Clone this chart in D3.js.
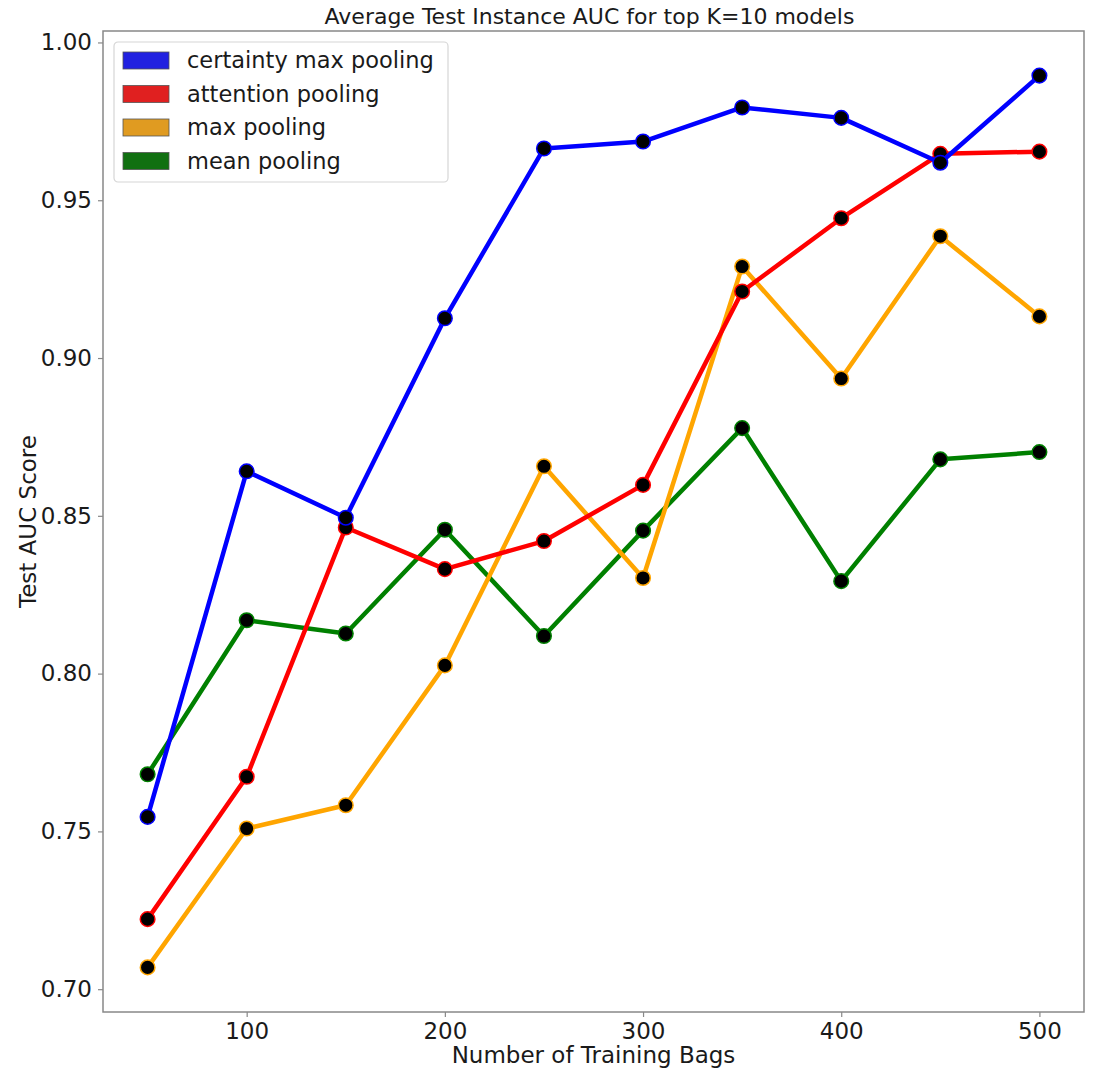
<!DOCTYPE html>
<html>
<head>
<meta charset="utf-8">
<script src="https://cdn.jsdelivr.net/npm/d3@7"></script>
<style>
  body { margin: 0; background: #fff; }
  text { font-family: "DejaVu Sans", sans-serif; fill: #1a1a1a; }
</style>
</head>
<body>
<div id="chart"></div>
<script>
var bags = [50, 100, 150, 200, 250, 300, 350, 400, 450, 500]
var certainty_max = [0.7546, 0.8641, 0.8494, 0.9126, 0.9664, 0.9686, 0.9794, 0.9761, 0.9619, 0.9895]
var attention = [0.7222, 0.7673, 0.8463, 0.8331, 0.8420, 0.8598, 0.9211, 0.9443, 0.9647, 0.9654]
var max_pool = [0.7069, 0.7509, 0.7583, 0.8026, 0.8657, 0.8303, 0.9290, 0.8935, 0.9386, 0.9132]
var mean_pool = [0.7681, 0.8169, 0.8127, 0.8456, 0.8119, 0.8453, 0.8778, 0.8293, 0.8679, 0.8702]
var series_names = ["certainty max pooling", "attention pooling", "max pooling", "mean pooling"]
var x_ticks = [100, 200, 300, 400, 500]
var y_ticks = [0.70, 0.75, 0.80, 0.85, 0.90, 0.95, 1.00]

var line_colors = ["#0000ff", "#ff0000", "#ffa500", "#008000"]
var patch_colors = ["#2121e0", "#e02020", "#e09b21", "#117011"]
var all_values = [certainty_max, attention, max_pool, mean_pool]

var width = 1099, height = 1071
var padding = { "left": 103, "right": 15, "top": 31, "bottom": 59 }
var plot_w = width - padding.left - padding.right
var plot_h = height - padding.top - padding.bottom

// matplotlib style 5% margins
var x_min = d3.min(bags), x_max = d3.max(bags)
var x_pad = (x_max - x_min) * 0.05
var flat = [].concat.apply([], all_values)
var y_min = d3.min(flat), y_max = d3.max(flat)
var y_pad = (y_max - y_min) * 0.05

var x_scale = d3.scaleLinear().domain([x_min - x_pad, x_max + x_pad]).range([0, plot_w])
var y_scale = d3.scaleLinear().domain([y_min - y_pad, y_max + y_pad]).range([plot_h, 0])

var svg = d3.select("#chart").append("svg")
    .attr("width", width)
    .attr("height", height)

var g = svg.append("g").attr("transform", "translate(" + padding.left + "," + padding.top + ")")

// axes
var x_axis = d3.axisBottom(x_scale).tickValues(x_ticks).tickSize(5).tickPadding(6)
var y_axis = d3.axisLeft(y_scale).tickValues(y_ticks).tickSize(5).tickPadding(6)
    .tickFormat(d3.format(".2f"))

var gx = g.append("g").attr("transform", "translate(0," + plot_h + ")").call(x_axis)
var gy = g.append("g").call(y_axis)
gx.select(".domain").remove()
gy.select(".domain").remove()
g.selectAll(".tick line").attr("stroke", "#888").attr("stroke-width", 1.2)
g.selectAll(".tick text").attr("font-size", 23).attr("fill", "#1a1a1a")
    .style("font-family", "DejaVu Sans")

// frame
g.append("rect")
    .attr("x", 0).attr("y", 0)
    .attr("width", plot_w).attr("height", plot_h)
    .attr("fill", "none")
    .attr("stroke", "#888")
    .attr("stroke-width", 1.5)

// lines, drawn so certainty max ends on top
var line = d3.line()
    .x(function (d, i) { return x_scale(bags[i]) })
    .y(function (d) { return y_scale(d) })

for (var k = all_values.length - 1; k >= 0; --k) {
    var s = g.append("g")
    s.append("path")
        .datum(all_values[k])
        .attr("d", line)
        .attr("fill", "none")
        .attr("stroke", line_colors[k])
        .attr("stroke-width", 4.5)
        .attr("stroke-linejoin", "round")
    s.selectAll("circle").data(all_values[k])
        .enter().append("circle")
        .attr("cx", function (d, i) { return x_scale(bags[i]) })
        .attr("cy", function (d) { return y_scale(d) })
        .attr("r", 7.3)
        .attr("fill", "#000")
        .attr("stroke", line_colors[k])
        .attr("stroke-width", 1.5)
}

// legend
var lg = g.append("g").attr("transform", "translate(11,11)")
lg.append("rect")
    .attr("width", 334).attr("height", 140)
    .attr("rx", 4).attr("ry", 4)
    .attr("fill", "#fff").attr("fill-opacity", 0.8)
    .attr("stroke", "#d6d6d6").attr("stroke-width", 1.2)
var rows = lg.selectAll(".legend-row").data(series_names)
    .enter().append("g")
    .attr("transform", function (d, i) { return "translate(0," + (10 + i * 33.5) + ")" })
rows.append("rect")
    .attr("x", 9).attr("y", 0)
    .attr("width", 46).attr("height", 17)
    .attr("fill", function (d, i) { return patch_colors[i] })
    .attr("stroke", "#555").attr("stroke-width", 0.8)
rows.append("text")
    .attr("x", 73).attr("y", 16)
    .attr("font-size", 22.5)
    .text(function (d) { return d })

// title and labels
svg.append("text")
    .attr("x", padding.left + plot_w / 2 - 4).attr("y", 24)
    .attr("text-anchor", "middle")
    .attr("font-size", 22)
    .text("Average Test Instance AUC for top K=10 models")
svg.append("text")
    .attr("x", padding.left + plot_w / 2).attr("y", height - 8)
    .attr("text-anchor", "middle")
    .attr("font-size", 23)
    .text("Number of Training Bags")
svg.append("text")
    .attr("transform", "translate(36," + (padding.top + plot_h / 2) + ") rotate(-90)")
    .attr("text-anchor", "middle")
    .attr("font-size", 23)
    .text("Test AUC Score")
</script>
</body>
</html>
